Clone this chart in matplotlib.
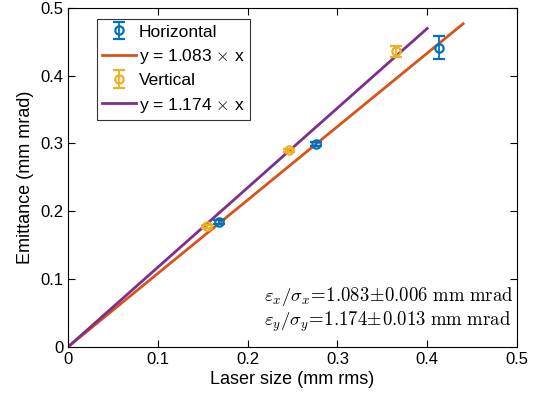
import numpy as np
import matplotlib
matplotlib.use('Agg')
import matplotlib.pyplot as plt

plt.rcParams['font.family'] = ['Liberation Sans', 'DejaVu Sans']
plt.rcParams['mathtext.fontset'] = 'cm'

# данные
hor_size = [0.168, 0.276, 0.413]
hor_emit = [0.184, 0.299, 0.441]
hor_err = [0.003, 0.003, 0.017]

ver_size = [0.155, 0.246, 0.365]
ver_emit = [0.178, 0.290, 0.436]
ver_err = [0.002, 0.002, 0.008]

k_hor = 1.083
k_ver = 1.174
x_hor_end = 0.44
x_ver_end = 0.40

c_blue = (0, 0.447, 0.741)
c_orange = (0.85, 0.325, 0.098)
c_yellow = (0.929, 0.694, 0.125)
c_purple = (0.494, 0.184, 0.556)

fig = plt.figure(figsize=(5.33, 4.12), dpi=100)
ax = fig.add_axes([0.1276, 0.158, 0.8424, 0.823])

h1 = ax.errorbar(hor_size, hor_emit, yerr=hor_err, fmt='o', mfc='none', mec=c_blue,
                 ecolor=c_blue, ms=6, mew=1.6, elinewidth=1.3, capsize=4, capthick=1.3,
                 label='Horizontal', zorder=3)
xh = np.array([0, x_hor_end])
h2, = ax.plot(xh, k_hor * xh, color=c_orange, lw=2, label=r'y = 1.083 $\times$ x')

h3 = ax.errorbar(ver_size, ver_emit, yerr=ver_err, fmt='o', mfc='none', mec=c_yellow,
                 ecolor=c_yellow, ms=6, mew=1.6, elinewidth=1.3, capsize=4, capthick=1.3,
                 label='Vertical', zorder=3)
xv = np.array([0, x_ver_end])
h4, = ax.plot(xv, k_ver * xv, color=c_purple, lw=2, label=r'y = 1.174 $\times$ x')

ax.set_xlim(0, 0.5)
ax.set_ylim(0, 0.5)
ax.set_xticks([0, 0.1, 0.2, 0.3, 0.4, 0.5])
ax.set_yticks([0, 0.1, 0.2, 0.3, 0.4, 0.5])
ax.set_xticklabels(['0', '0.1', '0.2', '0.3', '0.4', '0.5'])
ax.set_yticklabels(['0', '0.1', '0.2', '0.3', '0.4', '0.5'])
ax.tick_params(direction='in', top=True, right=True, labelsize=12, length=5, width=0.8)
for s in ax.spines.values():
    s.set_linewidth(0.8)
ax.set_xlabel('Laser size (mm rms)', fontsize=13, labelpad=3)
ax.set_ylabel('Emittance (mm mrad)', fontsize=13, labelpad=4)

leg = ax.legend([h1, h2, h3, h4], [h.get_label() for h in [h1, h2, h3, h4]],
                loc='upper left', bbox_to_anchor=(0.052, 0.982), fontsize=12.5,
                frameon=True, fancybox=False, edgecolor='black', handlelength=2,
                handletextpad=0.15, borderpad=0.3, labelspacing=0.42, borderaxespad=0.3)
leg.get_frame().set_linewidth(0.8)

ax.text(0.218, 0.075, r'$\varepsilon_x/\sigma_x\!=\!1.083\!\pm\!0.006\ \mathrm{mm\ mrad}$',
        fontsize=13.5, va='center', ha='left')
ax.text(0.218, 0.037, r'$\varepsilon_y/\sigma_y\!=\!1.174\!\pm\!0.013\ \mathrm{mm\ mrad}$',
        fontsize=13.5, va='center', ha='left')

fig.savefig('out.png', dpi=100)
